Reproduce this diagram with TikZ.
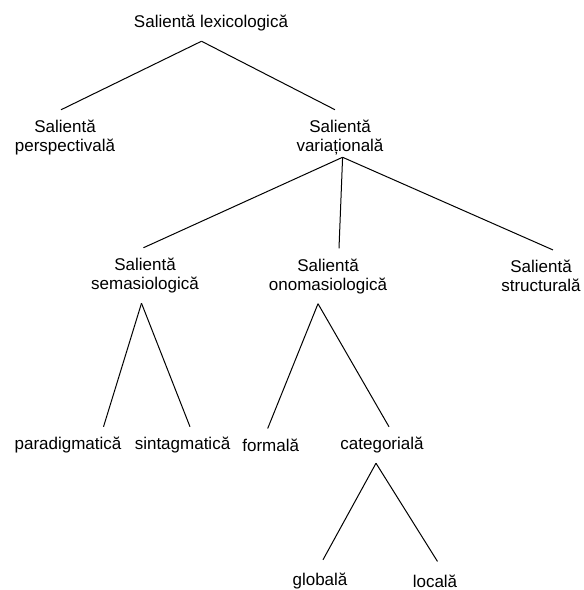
\documentclass[tikz,border=0pt]{standalone}
\usepackage{fontspec}
\setmainfont{Liberation Sans}
\usetikzlibrary{positioning}
\tikzset{
termstyle/.style={
  inner xsep=0pt,
  inner ysep=10pt,
  align=center,
  font=\fontsize{17}{19}\selectfont,
  }
}
\tikzset{
treeline/.style={
  line width=1pt,
  black,
  }
}

\begin{document}
\begin{tikzpicture}[x=1pt,y=-1pt]
    \useasboundingbox (0,0) rectangle (584,590);

    % top part
    \node[termstyle] (lexic) at (211,23) {Salientă lexicologică};
    \node[termstyle] (persp) at (65,137.5) {Salientă\\perspectivală};
    \node[termstyle] (variat) at (340,137.5) {Salientă\\variațională};

    % variational part
    \node[termstyle] (semas) at (145,275.5) {Salientă\\semasiologică};
    \node[termstyle] (onomas) at (328,276) {Salientă\\onomasiologică};
    \node[termstyle] (struct) at (541,276) {Salientă\\structurală};

    % leaves
    \node[termstyle] (paradig) at (68,445) {paradigmatică};
    \node[termstyle] (sintag) at (182.5,445) {sintagmatică};
    \node[termstyle] (formal) at (270.7,445) {formală};
    \node[termstyle] (categ) at (382,445) {categorială};
    \node[termstyle] (global) at (320,581) {globală};
    \node[termstyle] (local) at (435,581) {locală};

    % top edges
    \draw[treeline] ([xshift=-9.5pt]lexic.south) -- ([xshift=-4pt]persp.north);
    \draw[treeline] ([xshift=-9.5pt]lexic.south) -- ([xshift=-5pt]variat.north);

    % variational edges
    \draw[treeline] ([xshift=2.6pt,yshift=8pt]variat.south) -- ([xshift=-1.6pt]semas.north);
    \draw[treeline] ([xshift=2.6pt,yshift=8pt]variat.south) -- ([xshift=11pt]onomas.north);
    \draw[treeline] ([xshift=2.6pt,yshift=8pt]variat.south) -- ([xshift=12pt]struct.north);

    % lower edges
    \draw[treeline] ([xshift=-3.5pt]semas.south) -- ([xshift=35.5pt]paradig.north);
    \draw[treeline] ([xshift=-3.5pt]semas.south) -- ([xshift=7.5pt]sintag.north);
    \draw[treeline] ([xshift=-10pt]onomas.south) -- ([xshift=-3pt]formal.north);
    \draw[treeline] ([xshift=-10pt]onomas.south) -- ([xshift=7pt]categ.north);
    \draw[treeline] ([xshift=-6pt]categ.south) -- ([xshift=3pt,yshift=3pt]global.north);
    \draw[treeline] ([xshift=-6pt]categ.south) -- ([xshift=2.5pt,yshift=3pt]local.north);
\end{tikzpicture}
\end{document}
